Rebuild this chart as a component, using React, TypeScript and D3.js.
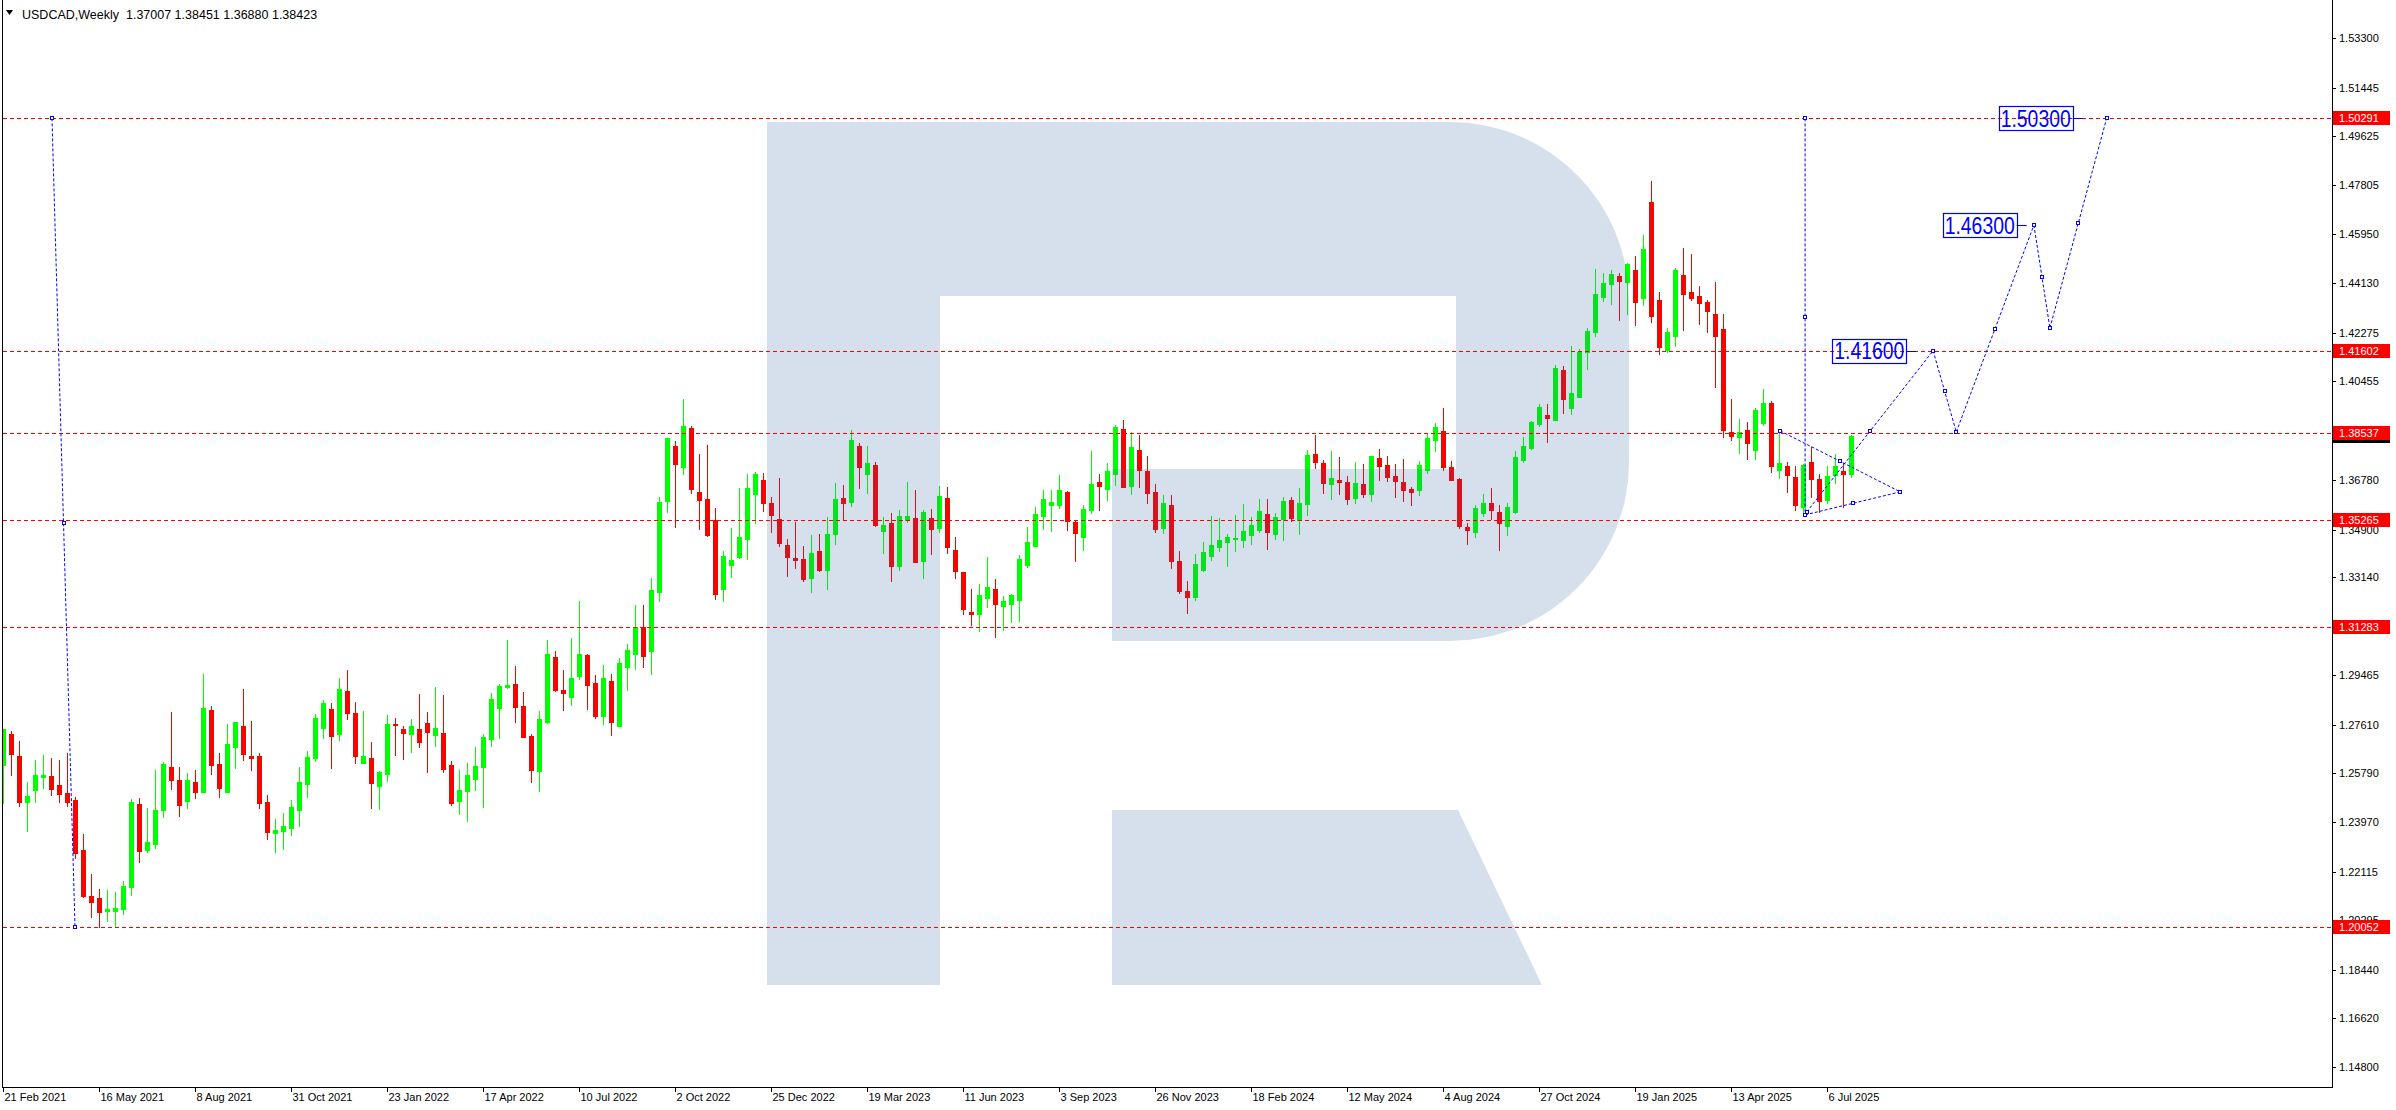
import React, { useEffect, useRef } from 'react';
import * as d3 from 'd3';

// USDCAD weekly bars, first bar = week of 21 Feb 2021
const opens = [
  1.2612, 1.2726, 1.2644, 1.2473, 1.2518, 1.2567, 1.2569, 1.2535, 1.2505, 1.2479,
  1.2292, 1.2120, 1.2113, 1.2064, 1.2064, 1.2072, 1.2155, 1.2464, 1.2294, 1.2316,
  1.2443, 1.2603, 1.2554, 1.2477, 1.2547, 1.2511, 1.2816, 1.2614, 1.2511, 1.2679,
  1.2756, 1.2644, 1.2644, 1.2472, 1.2357, 1.2365, 1.2376, 1.2443, 1.2540, 1.2638,
  1.2750, 1.2820, 1.2727, 1.2887, 1.2805, 1.2619, 1.2636, 1.2533, 1.2578, 1.2764,
  1.2745, 1.2727, 1.2745, 1.2767, 1.2724, 1.2730, 1.2610, 1.2477, 1.2514, 1.2559,
  1.2604, 1.2709, 1.2825, 1.2903, 1.2913, 1.2831, 1.2720, 1.2589, 1.2772, 1.3014,
  1.2891, 1.2866, 1.2944, 1.3022, 1.2917, 1.2795, 1.2924, 1.2757, 1.2978, 1.3027,
  1.3126, 1.3038, 1.3259, 1.3598, 1.3804, 1.3725, 1.3871, 1.3632, 1.3605, 1.3526,
  1.3270, 1.3360, 1.3390, 1.3457, 1.3625, 1.3676, 1.3590, 1.3530, 1.3433, 1.3385,
  1.3381, 1.3310, 1.3411, 1.3340, 1.3474, 1.3609, 1.3594, 1.3804, 1.3699, 1.3733,
  1.3486, 1.3516, 1.3355, 1.3527, 1.3534, 1.3373, 1.3534, 1.3497, 1.3609, 1.3415,
  1.3332, 1.3183, 1.3175, 1.3235, 1.3269, 1.3205, 1.3213, 1.3228, 1.3358, 1.3430,
  1.3542, 1.3583, 1.3583, 1.3632, 1.3519, 1.3463, 1.3564, 1.3669, 1.3643, 1.3699,
  1.3867, 1.3654, 1.3789, 1.3710, 1.3632, 1.3497, 1.3583, 1.3373, 1.3262, 1.3240,
  1.3340, 1.3392, 1.3426, 1.3445, 1.3456, 1.3452, 1.3471, 1.3489, 1.3549, 1.3474,
  1.3531, 1.3602, 1.3527, 1.3587, 1.3774, 1.3740, 1.3662, 1.3676, 1.3669, 1.3609,
  1.3662, 1.3624, 1.3759, 1.3732, 1.3691, 1.3669, 1.3643, 1.3639, 1.3714, 1.3826,
  1.3860, 1.3725, 1.3680, 1.3501, 1.3482, 1.3553, 1.3590, 1.3557, 1.3504, 1.3557,
  1.3751, 1.3796, 1.3886, 1.3920, 1.3901, 1.4088, 1.3946, 1.3987, 1.4155, 1.4230,
  1.4361, 1.4410, 1.4440, 1.4417, 1.4462, 1.4357, 1.4716, 1.4350, 1.4163, 1.4215,
  1.4443, 1.4380, 1.4365, 1.4342, 1.4297, 1.4241, 1.3856, 1.3837, 1.3863, 1.3789,
  1.3890, 1.3965, 1.3714, 1.3729, 1.3688, 1.3575, 1.3744, 1.3680, 1.3602, 1.3695,
  1.3710, 1.37007,
];
const highs = [
  1.2745, 1.2737, 1.2700, 1.2547, 1.2629, 1.2648, 1.2636, 1.2629, 1.2655, 1.2490,
  1.2352, 1.2203, 1.2146, 1.2143, 1.2135, 1.2176, 1.2483, 1.2487, 1.2449, 1.2592,
  1.2621, 1.2809, 1.2603, 1.2580, 1.2592, 1.2951, 1.2831, 1.2655, 1.2764, 1.2771,
  1.2895, 1.2775, 1.2655, 1.2498, 1.2408, 1.2431, 1.2479, 1.2603, 1.2663, 1.2801,
  1.2853, 1.2842, 1.2936, 1.2966, 1.2846, 1.2812, 1.2696, 1.2588, 1.2797, 1.2786,
  1.2756, 1.2782, 1.2877, 1.2809, 1.2902, 1.2872, 1.2625, 1.2592, 1.2618, 1.2678,
  1.2726, 1.2880, 1.2913, 1.3078, 1.2981, 1.2883, 1.2726, 1.2812, 1.3078, 1.3037,
  1.2966, 1.3085, 1.3224, 1.3025, 1.2947, 1.2984, 1.2951, 1.3011, 1.3063, 1.3209,
  1.3209, 1.3310, 1.3613, 1.3834, 1.3822, 1.3979, 1.3878, 1.3774, 1.3807, 1.3570,
  1.3411, 1.3497, 1.3647, 1.3699, 1.3706, 1.3703, 1.3613, 1.3684, 1.3456, 1.3519,
  1.3430, 1.3471, 1.3474, 1.3538, 1.3665, 1.3658, 1.3863, 1.3815, 1.3804, 1.3744,
  1.3538, 1.3553, 1.3564, 1.3669, 1.3639, 1.3564, 1.3568, 1.3654, 1.3650, 1.3463,
  1.3332, 1.3269, 1.3287, 1.3388, 1.3306, 1.3242, 1.3250, 1.3396, 1.3501, 1.3575,
  1.3639, 1.3639, 1.3695, 1.3635, 1.3527, 1.3583, 1.3785, 1.3699, 1.3740, 1.3882,
  1.3901, 1.3856, 1.3845, 1.3766, 1.3662, 1.3620, 1.3620, 1.3411, 1.3300, 1.3400,
  1.3445, 1.3542, 1.3535, 1.3474, 1.3546, 1.3587, 1.3538, 1.3605, 1.3605, 1.3553,
  1.3613, 1.3613, 1.3647, 1.3789, 1.3845, 1.3751, 1.3785, 1.3762, 1.3691, 1.3744,
  1.3736, 1.3766, 1.3792, 1.3766, 1.3736, 1.3755, 1.3650, 1.3747, 1.3849, 1.3890,
  1.3946, 1.3747, 1.3684, 1.3516, 1.3583, 1.3624, 1.3647, 1.3583, 1.3590, 1.3785,
  1.3837, 1.3897, 1.3961, 1.3961, 1.4107, 1.4103, 1.4178, 1.4167, 1.4245, 1.4466,
  1.4451, 1.4462, 1.4451, 1.4488, 1.4514, 1.4593, 1.4795, 1.4380, 1.4245, 1.4470,
  1.4544, 1.4522, 1.4402, 1.4350, 1.4417, 1.4297, 1.3980, 1.3905, 1.3893, 1.3946,
  1.4017, 1.3972, 1.3863, 1.3744, 1.3729, 1.3736, 1.3800, 1.3699, 1.3729, 1.3774,
  1.3740, 1.38451,
];
const lows = [
  1.2467, 1.2573, 1.2458, 1.2365, 1.2472, 1.2525, 1.2498, 1.2472, 1.2458, 1.2264,
  1.2116, 1.2043, 1.2005, 1.2028, 1.2005, 1.2053, 1.2124, 1.2249, 1.2284, 1.2301,
  1.2417, 1.2522, 1.2421, 1.2451, 1.2488, 1.2511, 1.2578, 1.2492, 1.2511, 1.2600,
  1.2630, 1.2593, 1.2451, 1.2335, 1.2284, 1.2297, 1.2350, 1.2383, 1.2492, 1.2626,
  1.2713, 1.2600, 1.2705, 1.2784, 1.2619, 1.2619, 1.2451, 1.2447, 1.2552, 1.2649,
  1.2634, 1.2660, 1.2679, 1.2585, 1.2683, 1.2585, 1.2462, 1.2428, 1.2402, 1.2518,
  1.2454, 1.2683, 1.2713, 1.2899, 1.2772, 1.2716, 1.2548, 1.2514, 1.2768, 1.2887,
  1.2817, 1.2836, 1.2933, 1.2821, 1.2787, 1.2765, 1.2724, 1.2757, 1.2892, 1.2971,
  1.2978, 1.2952, 1.3225, 1.3558, 1.3502, 1.3700, 1.3629, 1.3494, 1.3468, 1.3232,
  1.3225, 1.3315, 1.3386, 1.3382, 1.3517, 1.3560, 1.3482, 1.3430, 1.3317, 1.3347,
  1.3299, 1.3257, 1.3336, 1.3269, 1.3437, 1.3530, 1.3579, 1.3647, 1.3628, 1.3504,
  1.3403, 1.3299, 1.3340, 1.3519, 1.3370, 1.3310, 1.3400, 1.3482, 1.3403, 1.3310,
  1.3175, 1.3134, 1.3112, 1.3201, 1.3089, 1.3115, 1.3145, 1.3149, 1.3351, 1.3430,
  1.3493, 1.3486, 1.3572, 1.3489, 1.3373, 1.3415, 1.3553, 1.3564, 1.3602, 1.3658,
  1.3650, 1.3624, 1.3650, 1.3590, 1.3482, 1.3478, 1.3347, 1.3255, 1.3178, 1.3229,
  1.3336, 1.3377, 1.3411, 1.3355, 1.3411, 1.3426, 1.3437, 1.3482, 1.3418, 1.3456,
  1.3452, 1.3523, 1.3474, 1.3546, 1.3721, 1.3628, 1.3605, 1.3624, 1.3587, 1.3590,
  1.3613, 1.3598, 1.3676, 1.3673, 1.3613, 1.3598, 1.3583, 1.3620, 1.3703, 1.3785,
  1.3714, 1.3676, 1.3497, 1.3437, 1.3463, 1.3542, 1.3531, 1.3415, 1.3471, 1.3553,
  1.3744, 1.3792, 1.3877, 1.3819, 1.3901, 1.3927, 1.3923, 1.3987, 1.4092, 1.4215,
  1.4346, 1.4335, 1.4275, 1.4297, 1.4256, 1.4331, 1.4268, 1.4148, 1.4155, 1.4178,
  1.4238, 1.4350, 1.4260, 1.4230, 1.4024, 1.3837, 1.3826, 1.3778, 1.3755, 1.3755,
  1.3882, 1.3706, 1.3684, 1.3632, 1.3564, 1.3553, 1.3613, 1.3557, 1.3590, 1.3665,
  1.3576, 1.36880,
];
const closes = [
  1.2745, 1.2651, 1.2473, 1.2494, 1.2573, 1.2573, 1.2522, 1.2503, 1.2473, 1.2282,
  1.2120, 1.2099, 1.2062, 1.2072, 1.2075, 1.2158, 1.2472, 1.2290, 1.2322, 1.2442,
  1.2614, 1.2555, 1.2462, 1.2554, 1.2511, 1.2824, 1.2612, 1.2525, 1.2689, 1.2771,
  1.2653, 1.2638, 1.2469, 1.2361, 1.2367, 1.2382, 1.2453, 1.2547, 1.2640, 1.2786,
  1.2842, 1.2720, 1.2895, 1.2806, 1.2645, 1.2644, 1.2544, 1.2584, 1.2764, 1.2760,
  1.2731, 1.2756, 1.2698, 1.2735, 1.2749, 1.2597, 1.2469, 1.2517, 1.2573, 1.2607,
  1.2715, 1.2857, 1.2906, 1.2909, 1.2828, 1.2716, 1.2593, 1.2782, 1.3025, 1.2891,
  1.2881, 1.2936, 1.3025, 1.2911, 1.2795, 1.2936, 1.2772, 1.2992, 1.3040, 1.3126,
  1.3019, 1.3265, 1.3594, 1.3834, 1.3738, 1.3878, 1.3644, 1.3603, 1.3472, 1.3251,
  1.3392, 1.3377, 1.3463, 1.3647, 1.3699, 1.3592, 1.3546, 1.3441, 1.3388, 1.3377,
  1.3306, 1.3403, 1.3340, 1.3474, 1.3605, 1.3590, 1.3826, 1.3725, 1.3740, 1.3508,
  1.3508, 1.3355, 1.3542, 1.3542, 1.3370, 1.3557, 1.3493, 1.3617, 1.3426, 1.3336,
  1.3194, 1.3175, 1.3246, 1.3276, 1.3213, 1.3224, 1.3246, 1.3381, 1.3444, 1.3549,
  1.3605, 1.3594, 1.3639, 1.3523, 1.3478, 1.3568, 1.3661, 1.3654, 1.3710, 1.3875,
  1.3650, 1.3800, 1.3714, 1.3628, 1.3493, 1.3590, 1.3373, 1.3262, 1.3240, 1.3362,
  1.3407, 1.3433, 1.3452, 1.3463, 1.3459, 1.3486, 1.3508, 1.3561, 1.3482, 1.3538,
  1.3598, 1.3535, 1.3590, 1.3770, 1.3744, 1.3665, 1.3684, 1.3669, 1.3605, 1.3665,
  1.3624, 1.3766, 1.3729, 1.3688, 1.3673, 1.3639, 1.3632, 1.3732, 1.3834, 1.3875,
  1.3725, 1.3676, 1.3504, 1.3489, 1.3572, 1.3590, 1.3564, 1.3516, 1.3575, 1.3762,
  1.3804, 1.3893, 1.3950, 1.3908, 1.4095, 1.3980, 1.4002, 1.4155, 1.4234, 1.4372,
  1.4413, 1.4447, 1.4421, 1.4484, 1.4342, 1.4541, 1.4290, 1.4174, 1.4230, 1.4462,
  1.4372, 1.4357, 1.4339, 1.4309, 1.4215, 1.3863, 1.3841, 1.3856, 1.3815, 1.3938,
  1.3965, 1.3729, 1.3740, 1.3695, 1.3583, 1.3732, 1.3680, 1.3598, 1.3691, 1.3729,
  1.3699, 1.38423,
];

const dateLabels = [
  '21 Feb 2021', '16 May 2021', '8 Aug 2021', '31 Oct 2021', '23 Jan 2022',
  '17 Apr 2022', '10 Jul 2022', '2 Oct 2022', '25 Dec 2022', '19 Mar 2023',
  '11 Jun 2023', '3 Sep 2023', '26 Nov 2023', '18 Feb 2024', '12 May 2024',
  '4 Aug 2024', '27 Oct 2024', '19 Jan 2025', '13 Apr 2025', '6 Jul 2025',
];
const labelStep = 12; // weeks between date labels

const priceTicks = [
  1.533, 1.51445, 1.49625, 1.47805, 1.4595, 1.4413, 1.42275, 1.40455, 1.3678,
  1.349, 1.3314, 1.29465, 1.2761, 1.2579, 1.2397, 1.22115, 1.20295, 1.1844,
  1.1662, 1.148,
];

// horizontal support / resistance lines
const levels = [1.50291, 1.41602, 1.38537, 1.35265, 1.31283, 1.20052];
const bidPrice = 1.38423;

// trend lines drawn on the chart: [barIndex, price] pairs
const trendLines: [number, number][][] = [
  [[6.06, 1.50291], [8.94, 1.20052]],
  [[225.2, 1.50291], [225.2, 1.3546]],
  [[222.1, 1.386], [237.1, 1.3632]],
  [[225.2, 1.3546], [237.1, 1.3632]],
];

// forecast zigzag
const forecastIdx = [225.4, 241.2, 244.1, 253.8, 255.8, 262.9];
const forecastPrice = [1.3557, 1.416, 1.3856, 1.463, 1.4245, 1.503];

// target labels
const targetPrice = [1.416, 1.463, 1.503];
const targetIdx = [239.1, 252.9, 259.9];

const W = 2396;
const H = 1110;
const plotRight = 2332;
const plotBottom = 1087;

export default function App() {
  const svgRef = useRef<SVGSVGElement>(null);

  useEffect(() => {
    if (!svgRef.current) return;
    const svg = d3.select(svgRef.current);
    svg.selectAll('*').remove();

    const x = d3.scaleLinear().domain([0, 291]).range([3.5, 3.5 + 8 * 291]);
    const y = d3.scaleLinear().domain([1.533, 1.148]).range([38, 1067.1]);

    const bars = d3.range(opens.length).map((i) => ({
      i, o: opens[i], h: highs[i], l: lows[i], c: closes[i],
    }));

    svg.append('rect').attr('width', W).attr('height', H).attr('fill', '#fff');

    svg.append('defs').append('clipPath').attr('id', 'plot')
      .append('rect').attr('x', 3).attr('y', 0).attr('width', plotRight - 3).attr('height', plotBottom);

    // candles
    const cg = svg.append('g').attr('clip-path', 'url(#plot)').attr('shape-rendering', 'crispEdges');
    const col = (d: any) => (d.c >= d.o ? '#00ff00' : '#ff0000');
    cg.selectAll('rect.wick').data(bars).join('rect')
      .attr('class', 'wick')
      .attr('x', (d) => x(d.i) - 0.5)
      .attr('width', 1)
      .attr('y', (d) => Math.round(y(d.h)))
      .attr('height', (d) => Math.max(1, Math.round(y(d.l)) - Math.round(y(d.h)) + 1))
      .attr('fill', col);
    cg.selectAll('rect.body').data(bars).join('rect')
      .attr('class', 'body')
      .attr('x', (d) => x(d.i) - 2.5)
      .attr('width', 5)
      .attr('y', (d) => Math.round(y(Math.max(d.o, d.c))))
      .attr('height', (d) => Math.max(1, Math.round(y(Math.min(d.o, d.c))) - Math.round(y(Math.max(d.o, d.c))) + 1))
      .attr('fill', col);

    // watermark logo
    const wm = svg.append('g').attr('fill', 'rgb(45,100,160)').attr('fill-opacity', 0.2);
    wm.append('path').attr('d',
      'M767,122 L1450,122 A179,179 0 0 1 1629,301 L1629,462 A179,179 0 0 1 1450,641 ' +
      'L1112,641 L1112,469 L1456,469 L1456,296 L940,296 L940,985 L767,985 Z');
    wm.append('path').attr('d', 'M1112,810 L1458,810 L1542,985 L1112,985 Z');

    // level lines
    svg.append('g').selectAll('line').data(levels).join('line')
      .attr('x1', 3).attr('x2', plotRight)
      .attr('y1', (d) => Math.round(y(d)) + 0.5).attr('y2', (d) => Math.round(y(d)) + 0.5)
      .attr('stroke', '#ff0000').attr('stroke-width', 1).attr('stroke-dasharray', '4,3');

    // blue trend lines with handles
    const blue = '#0000ff';
    const segs: [number, number][][] = [...trendLines];
    for (let k = 0; k < forecastIdx.length - 1; k++) {
      segs.push([[forecastIdx[k], forecastPrice[k]], [forecastIdx[k + 1], forecastPrice[k + 1]]]);
    }
    const ag = svg.append('g');
    ag.selectAll('line').data(segs).join('line')
      .attr('x1', (d) => x(d[0][0])).attr('y1', (d) => y(d[0][1]))
      .attr('x2', (d) => x(d[1][0])).attr('y2', (d) => y(d[1][1]))
      .attr('stroke', blue).attr('stroke-width', 1).attr('stroke-dasharray', '3,2');
    const handles: [number, number][] = [];
    segs.forEach((s) => {
      handles.push([x(s[0][0]), y(s[0][1])]);
      handles.push([x(s[1][0]), y(s[1][1])]);
      handles.push([(x(s[0][0]) + x(s[1][0])) / 2, (y(s[0][1]) + y(s[1][1])) / 2]);
    });
    ag.selectAll('rect').data(handles).join('rect')
      .attr('x', (d) => Math.round(d[0]) - 1.5).attr('y', (d) => Math.round(d[1]) - 1.5)
      .attr('width', 3).attr('height', 3)
      .attr('fill', '#fff').attr('stroke', blue).attr('stroke-width', 1)
      .attr('shape-rendering', 'crispEdges');

    // target labels
    const tg = svg.append('g').selectAll('g').data(targetPrice).join('g');
    tg.append('line')
      .attr('x1', (d, k) => x(targetIdx[k]) - 10).attr('x2', (d, k) => x(targetIdx[k]))
      .attr('y1', (d) => Math.round(y(d)) + 0.5).attr('y2', (d) => Math.round(y(d)) + 0.5)
      .attr('stroke', blue);
    tg.append('rect')
      .attr('x', (d, k) => Math.round(x(targetIdx[k]) - 10 - 74) + 0.5)
      .attr('y', (d) => Math.round(y(d)) - 12 + 0.5)
      .attr('width', 74).attr('height', 24)
      .attr('fill', 'none').attr('stroke', blue).attr('stroke-width', 1.2);
    tg.append('text')
      .attr('x', (d, k) => x(targetIdx[k]) - 10 - 37)
      .attr('y', (d) => y(d) + 8.5)
      .attr('text-anchor', 'middle')
      .attr('font-family', 'Liberation Sans, Arial, sans-serif')
      .attr('font-size', 23)
      .attr('textLength', 70).attr('lengthAdjust', 'spacingAndGlyphs')
      .attr('fill', blue)
      .text((d) => d.toFixed(5));

    // frame
    const fg = svg.append('g').attr('shape-rendering', 'crispEdges').attr('stroke', '#000');
    fg.append('line').attr('x1', 2.5).attr('x2', 2.5).attr('y1', 0).attr('y2', plotBottom);
    fg.append('line').attr('x1', plotRight + 0.5).attr('x2', plotRight + 0.5).attr('y1', 0).attr('y2', plotBottom + 0.5);
    fg.append('line').attr('x1', 2).attr('x2', plotRight + 1).attr('y1', plotBottom + 0.5).attr('y2', plotBottom + 0.5);

    // price axis
    const font = 'Liberation Sans, Arial, sans-serif';
    const pa = svg.append('g');
    pa.selectAll('line').data(priceTicks).join('line')
      .attr('x1', plotRight).attr('x2', plotRight + 4)
      .attr('y1', (d) => Math.round(y(d)) + 0.5).attr('y2', (d) => Math.round(y(d)) + 0.5)
      .attr('stroke', '#000').attr('shape-rendering', 'crispEdges');
    pa.selectAll('text').data(priceTicks).join('text')
      .attr('x', plotRight + 7).attr('y', (d) => y(d) + 4)
      .attr('font-family', font).attr('font-size', 11).attr('fill', '#000')
      .text((d) => d.toFixed(5));

    // bid label (mostly hidden)
    pa.append('rect').attr('x', plotRight + 1).attr('y', Math.round(y(bidPrice)) - 7)
      .attr('width', 57).attr('height', 14).attr('fill', '#000');

    const lv = svg.append('g').selectAll('g').data(levels).join('g');
    lv.append('rect')
      .attr('x', plotRight + 1).attr('y', (d) => Math.round(y(d)) - 7)
      .attr('width', 57).attr('height', 14).attr('fill', '#ff0000');
    lv.append('text')
      .attr('x', plotRight + 7).attr('y', (d) => y(d) + 4)
      .attr('font-family', font).attr('font-size', 11).attr('fill', '#fff')
      .text((d) => d.toFixed(5));

    // time axis
    const ti = dateLabels.map((_, k) => k * labelStep);
    const ta = svg.append('g');
    ta.selectAll('line').data(ti).join('line')
      .attr('x1', (d) => x(d)).attr('x2', (d) => x(d))
      .attr('y1', plotBottom).attr('y2', plotBottom + 5)
      .attr('stroke', '#000').attr('shape-rendering', 'crispEdges');
    ta.selectAll('text').data(ti).join('text')
      .attr('x', (d) => x(d) + 1).attr('y', plotBottom + 14)
      .attr('font-family', font).attr('font-size', 11).attr('fill', '#000')
      .text((d, k) => dateLabels[k]);

    // title
    svg.append('path').attr('d', 'M6,10 L13,10 L9.5,15 Z').attr('fill', '#000');
    svg.append('text')
      .attr('x', 22).attr('y', 18.5)
      .attr('font-family', font).attr('font-size', 12.5).attr('fill', '#000')
      .attr('xml:space', 'preserve')
      .style('white-space', 'pre')
      .text('USDCAD,Weekly  1.37007 1.38451 1.36880 1.38423');
  }, []);

  return (
    <div style={{ position: 'absolute', left: 0, top: 0, width: W, height: H, background: '#fff' }}>
      <svg ref={svgRef} width={W} height={H} style={{ display: 'block' }} />
    </div>
  );
}
